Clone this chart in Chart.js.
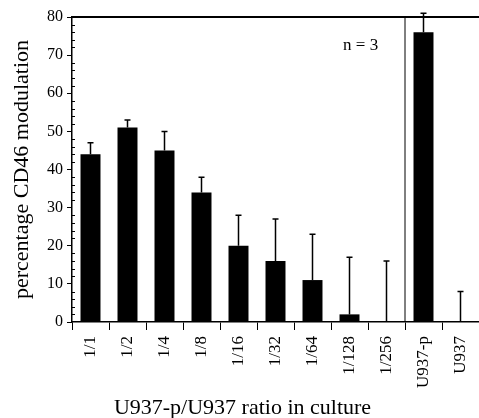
<!DOCTYPE html>
<html lang="en">
<head>
    <meta charset="UTF-8">
    <title>CD46 modulation</title>
    <script src="https://cdn.jsdelivr.net/npm/chart.js"></script>
    <style>
        body { margin: 0; background: #fff; }
        canvas { display: block; }
    </style>
</head>
<body>
    <canvas id="cd46Chart" width="479" height="418"></canvas>
    <script>
        // values
        const categories = ['1/1', '1/2', '1/4', '1/8', '1/16', '1/32', '1/64', '1/128', '1/256', 'U937-p', 'U937'];
        const modulation = [44, 51, 45, 34, 20, 16, 11, 2, 0, 76, 0];
        const errorUp = [3, 2, 5, 4, 8, 11, 12, 15, 16, 5, 8];
        const yMin = 0, yMax = 80, yStep = 10, yMinorStep = 2;
        const xTitle = 'U937-p/U937 ratio in culture';

        const serif = '"Liberation Serif", "Times New Roman", serif';

        // error bars, divider line, top border, minor ticks and the n = 3 note
        const extras = {
            id: 'extras',
            afterDatasetsDraw(chart) {
                const ctx = chart.ctx;
                const x = chart.scales.x, y = chart.scales.y;
                const area = chart.chartArea;
                const meta = chart.getDatasetMeta(0);
                ctx.save();
                ctx.strokeStyle = '#000';
                ctx.lineWidth = 1.5;
                meta.data.forEach(function (bar, i) {
                    const yb = y.getPixelForValue(modulation[i]);
                    const yt = y.getPixelForValue(modulation[i] + errorUp[i]);
                    ctx.beginPath();
                    ctx.moveTo(bar.x, yb);
                    ctx.lineTo(bar.x, yt);
                    ctx.moveTo(bar.x - 3, yt);
                    ctx.lineTo(bar.x + 3, yt);
                    ctx.stroke();
                });

                // divider between the dilutions and the controls
                const xd = (x.getPixelForValue(8) + x.getPixelForValue(9)) / 2;
                ctx.lineWidth = 1;
                ctx.beginPath();
                ctx.moveTo(xd, area.top);
                ctx.lineTo(xd, area.bottom);
                ctx.stroke();

                // top border
                ctx.lineWidth = 2;
                ctx.beginPath();
                ctx.moveTo(area.left, area.top);
                ctx.lineTo(chart.width, area.top);
                ctx.stroke();

                // minor ticks on the y axis, pointing inside
                ctx.lineWidth = 1;
                for (let v = yMin; v <= yMax; v += yMinorStep) {
                    if (v % yStep === 0) continue;
                    const py = Math.round(y.getPixelForValue(v)) + 0.5;
                    ctx.beginPath();
                    ctx.moveTo(area.left, py);
                    ctx.lineTo(area.left + 3, py);
                    ctx.stroke();
                }

                ctx.fillStyle = '#000';
                ctx.font = '17px ' + serif;
                ctx.textAlign = 'center';
                ctx.textBaseline = 'middle';
                ctx.fillText('n = 3', x.getPixelForValue(7.3), y.getPixelForValue(72.5));

                // x title is centred on the whole figure, not the plot
                ctx.font = '22px ' + serif;
                ctx.textBaseline = 'alphabetic';
                ctx.fillText(xTitle, chart.width / 2 + 3, chart.height - 4);
                ctx.restore();
            }
        };

        new Chart(document.getElementById('cd46Chart'), {
            type: 'bar',
            data: {
                labels: categories,
                datasets: [{
                    data: modulation,
                    backgroundColor: '#000',
                    borderWidth: 0,
                    categoryPercentage: 1,
                    barPercentage: 0.54
                }]
            },
            options: {
                responsive: false,
                animation: false,
                layout: { padding: { top: 17, left: 0, right: 0, bottom: 0 } },
                plugins: { legend: { display: false }, tooltip: { enabled: false } },
                scales: {
                    x: {
                        offset: true,
                        afterFit(scale) {
                            scale.height = 96;
                            scale.paddingLeft = 0;
                            scale.paddingRight = 0;
                        },
                        grid: {
                            offset: true,
                            drawOnChartArea: false,
                            tickLength: 8,
                            color: '#000',
                            lineWidth: 1
                        },
                        border: { color: '#000', width: 1.5 },
                        ticks: {
                            color: '#000',
                            font: { family: serif, size: 17 },
                            minRotation: 90,
                            maxRotation: 90,
                            padding: 6,
                            autoSkip: false
                        }
                    },
                    y: {
                        min: yMin,
                        max: yMax,
                        afterFit(scale) { scale.width = 72; },
                        grid: {
                            drawOnChartArea: false,
                            tickLength: 5,
                            color: '#000'
                        },
                        border: { color: '#000', width: 1.5 },
                        ticks: {
                            stepSize: yStep,
                            color: '#000',
                            font: { family: serif, size: 16 },
                            padding: 4
                        },
                        title: {
                            display: true,
                            text: 'percentage CD46 modulation',
                            color: '#000',
                            font: { family: serif, size: 22 },
                            padding: { top: 9, bottom: 0 }
                        }
                    }
                }
            },
            plugins: [extras]
        });
    </script>
</body>
</html>
